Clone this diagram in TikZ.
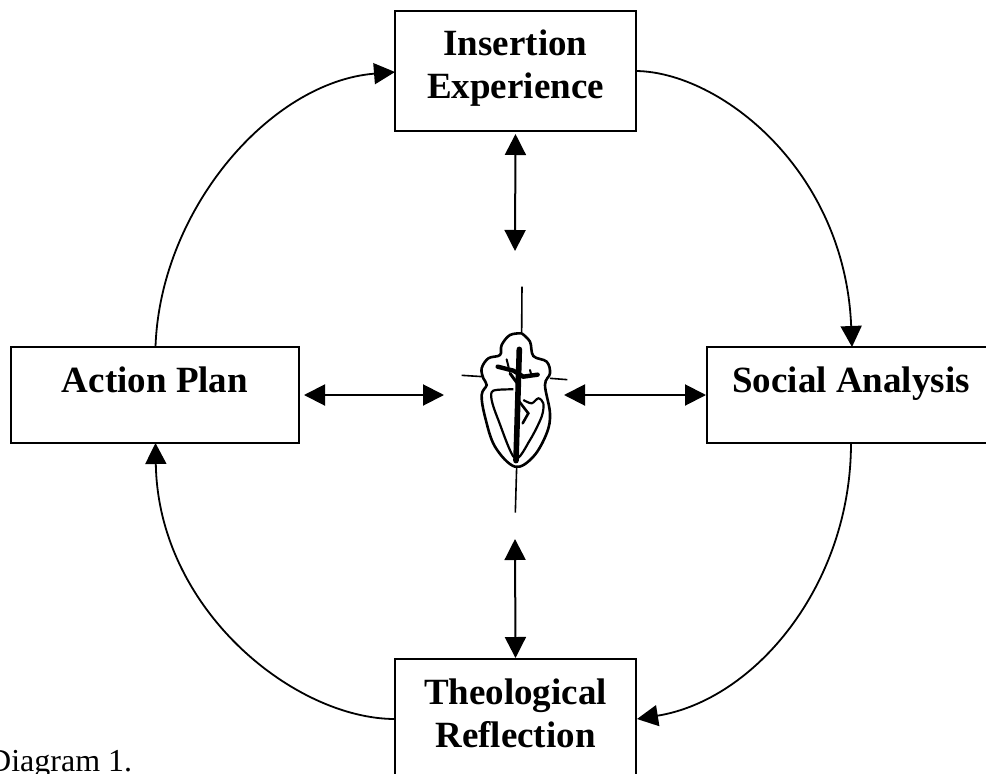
\documentclass[tikz,border=0pt]{standalone}
\usepackage{fontspec}
\setmainfont{Liberation Serif}
\usetikzlibrary{arrows.meta}
\tikzset{
  stagebox/.style={draw=black,line width=2pt,fill=white,inner sep=0pt},
  stagetext/.style={align=center,inner sep=0pt,anchor=base,font=\fontsize{37}{43}\selectfont\bfseries},
  cycle/.style={draw=black,line width=1.8pt,-{Triangle[length=21pt,width=21pt]}},
  link/.style={draw=black,line width=2pt,{Triangle[length=21pt,width=21pt]}-{Triangle[length=21pt,width=21pt]}},
  logoline/.style={draw=black,line width=1.5pt},
  logoink/.style={draw=black,line cap=round}
}
\begin{document}
\begin{tikzpicture}[x=1pt,y=-1pt]
\useasboundingbox (0,0) rectangle (986,774);
\node[stagebox,minimum width=241pt,minimum height=120pt] (ins) at (515.5,71) {};
\node[stagebox,minimum width=288pt,minimum height=96pt] (act) at (155,395) {};
\node[stagebox,minimum width=288pt,minimum height=96pt] (soc) at (851,395) {};
\node[stagebox,minimum width=241pt,minimum height=130pt] (the) at (515.5,724) {};
\node[stagetext] (instext) at (515.5,55) {Insertion};
\node[stagetext] (exptext) at (515.5,98) {Experience};
\node[stagetext] (acttext) at (155,392) {Action Plan};
\node[stagetext] (soctext) at (851,392) {Social Analysis};
\node[stagetext] (thetext) at (515.5,704) {Theological};
\node[stagetext] (reftext) at (515.5,747) {Reflection};
\node[anchor=base west,inner sep=0pt,font=\fontsize{32}{36}\selectfont] (cap) at (-12,771) {Diagram 1.};
\coordinate (lt) at (515,251);
\coordinate (lb) at (515,539);
\coordinate (ll) at (444,395);
\coordinate (lr) at (564,395);
\coordinate (insw) at (395,72);
\coordinate (inse) at (636,71);
\coordinate (soct) at (852,347);
\coordinate (socb) at (851,443);
\coordinate (thee) at (637,719);
\coordinate (thew) at (395,719);
\coordinate (actb) at (155.5,443);
\coordinate (actt) at (155.5,347);
\draw[link] (ins.south) ++(0,2) -- (lt);
\draw[link] (lb) -- (the.north);
\draw[link] (act.east) ++(4,0) -- (ll);
\draw[link] (lr) -- (soc.west);
\draw[cycle] (inse) .. controls (720,72) and (845,170) .. (soct);
\draw[cycle] (socb) .. controls (851,585) and (755,700) .. (thee);
\draw[cycle] (thew) .. controls (295,719) and (158,610) .. (actb);
\draw[cycle] (actt) .. controls (160,210) and (270,82) .. (insw);
\begin{scope}[shift={(430,270)},x=0.3333pt,y=-0.3333pt]
\draw[logoline,line width=1.6pt] (276,50) -- (275,190);
\draw[logoline,line width=1.6pt] (95,316) -- (158,320);
\draw[logoline,line width=1.6pt] (360,325) -- (412,329);
\draw[logoline,line width=1.6pt] (260,590) -- (256,728);
\draw[logoline,line width=2.6pt] plot[smooth,tension=.6] coordinates {(275,190)(240,195)(215,225)(210,255)(175,265)(155,295)(160,325)(170,345)(155,375)(165,440)(195,530)(255,590)(310,560)(350,490)(360,430)(345,345)(360,310)(350,275)(310,258)(300,215)(275,190)};
\draw[logoline,line width=2.2pt] plot[smooth,tension=.5] coordinates {(250,358)(190,362)(185,390)(205,450)(255,565)(300,510)(335,440)(340,400)(325,385)(305,400)(280,390)};
\draw[logoink,line width=5.6pt] (268,238) -- (258,572);
\draw[logoink,line width=4.4pt] (203,290) -- (250,302) -- (280,320) -- (323,314);
\draw[logoink,line width=2pt] (230,268) -- (236,292);
\draw[logoink,line width=2pt] (300,300) -- (305,318);
\draw[logoink,line width=3pt] (240,310) -- (262,340);
\draw[logoink,line width=2.6pt] (268,395) -- (295,430) -- (278,460);
\end{scope}
\end{tikzpicture}
\end{document}
